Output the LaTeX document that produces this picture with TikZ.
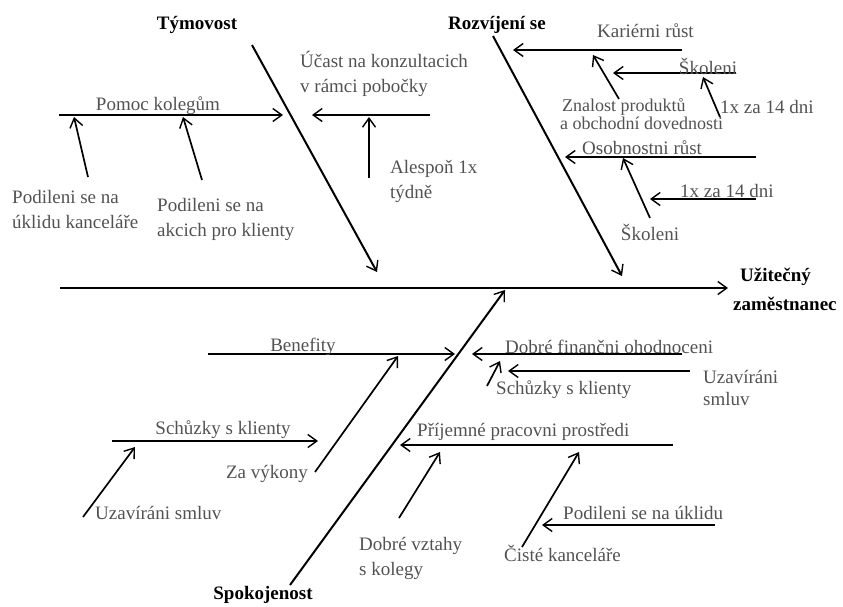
\documentclass[tikz,border=0pt]{standalone}
\usepackage{fontspec}
\setmainfont{Liberation Serif}
\usetikzlibrary{arrows.meta}
\begin{document}
\begin{tikzpicture}[x=1pt,y=-1pt,
  tip/.style={-{Straight Barb[length=9pt,width=13pt,line width=1.4pt]}},
  spine/.style={tip,line width=2.4pt},
  bone/.style={tip,line width=2pt},
  twig/.style={tip,line width=1.7pt},
  lbl/.style={text=black!68,inner sep=0pt,font=\fontsize{19}{25}\selectfont,align=left},
  ttl/.style={text=black,inner sep=0pt,font=\fontsize{19}{29}\selectfont\bfseries}]
\useasboundingbox (0,0) rectangle (843,606);

% main spine
\coordinate (sp0) at (60,288);
\coordinate (sp1) at (728,288);
\draw[spine] (sp0) -- (sp1);

% category bones
\coordinate (tym0) at (252,45);   \coordinate (tym1) at (377,272);
\coordinate (roz0) at (493,36);   \coordinate (roz1) at (622,276);
\coordinate (spk0) at (290,585);  \coordinate (spk1) at (505,290);
\draw[bone] (tym0) -- (tym1);
\draw[bone] (roz0) -- (roz1);
\draw[bone] (spk0) -- (spk1);

% Tymovost branches
\coordinate (pom0) at (59,115);   \coordinate (pom1) at (283,115);
\coordinate (pa0) at (88,177);    \coordinate (pa1) at (74,117);
\coordinate (pb0) at (202,180);   \coordinate (pb1) at (183,117);
\coordinate (uc0) at (430,115);   \coordinate (uc1) at (312,115);
\coordinate (al0) at (369,178);   \coordinate (al1) at (369,117);
\draw[bone] (pom0) -- (pom1);
\draw[twig] (pa0) -- (pa1);
\draw[twig] (pb0) -- (pb1);
\draw[bone] (uc0) -- (uc1);
\draw[twig] (al0) -- (al1);

% Rozvijeni se branches
\coordinate (kar0) at (682,50);   \coordinate (kar1) at (513,50);
\coordinate (zn0) at (619,99);    \coordinate (zn1) at (593,55);
\coordinate (sk0) at (736,73);    \coordinate (sk1) at (613,73);
\coordinate (xa0) at (720,117);   \coordinate (xa1) at (703,77);
\coordinate (os0) at (756,157);   \coordinate (os1) at (565,157);
\coordinate (sl0) at (650,218);   \coordinate (sl1) at (623,158);
\coordinate (xb0) at (756,199);   \coordinate (xb1) at (650,199);
\draw[bone] (kar0) -- (kar1);
\draw[twig] (zn0) -- (zn1);
\draw[twig] (sk0) -- (sk1);
\draw[twig] (xa0) -- (xa1);
\draw[bone] (os0) -- (os1);
\draw[twig] (sl0) -- (sl1);
\draw[twig] (xb0) -- (xb1);

% Spokojenost branches
\coordinate (ben0) at (208,354);  \coordinate (ben1) at (455,354);
\coordinate (zv0) at (315,472);   \coordinate (zv1) at (398,356);
\coordinate (shl0) at (112,441);  \coordinate (shl1) at (318,441);
\coordinate (uzl0) at (83,517);   \coordinate (uzl1) at (135,447);
\coordinate (dfo0) at (682,354);  \coordinate (dfo1) at (472,354);
\coordinate (shr0) at (487,386);  \coordinate (shr1) at (500,361);
\coordinate (uzr0) at (690,371);  \coordinate (uzr1) at (508,371);
\coordinate (pri0) at (673,445);  \coordinate (pri1) at (400,445);
\coordinate (dv0) at (399,518);   \coordinate (dv1) at (440,452);
\coordinate (ck0) at (522,547);   \coordinate (ck1) at (579,452);
\coordinate (pu0) at (715,525);   \coordinate (pu1) at (542,525);
\draw[bone] (ben0) -- (ben1);
\draw[twig] (zv0) -- (zv1);
\draw[bone] (shl0) -- (shl1);
\draw[twig] (uzl0) -- (uzl1);
\draw[bone] (dfo0) -- (dfo1);
\draw[twig] (shr0) -- (shr1);
\draw[twig] (uzr0) -- (uzr1);
\draw[bone] (pri0) -- (pri1);
\draw[twig] (dv0) -- (dv1);
\draw[twig] (ck0) -- (ck1);
\draw[twig] (pu0) -- (pu1);

% category titles (multi-line nodes are anchored at the last baseline)
\node[ttl] (tTym) at (197,25) {Týmovost};
\node[ttl] (tRoz) at (497,25) {Rozvíjení se};
\node[ttl] (tSpk) at (263,595) {Spokojenost};
\node[ttl,align=left,anchor=base west] (tUz) at (740,310) {Užitečný\\\hspace*{-7pt}zaměstnanec};

% Tymovost labels
\node[lbl] (lPom) at (158,106) {Pomoc kolegům};
\node[lbl,anchor=base west] (lPa) at (12,228) {Podileni se na\\úklidu kanceláře};
\node[lbl,anchor=base west] (lPb) at (157,236) {Podileni se na\\akcich pro klienty};
\node[lbl,anchor=base west] (lUc) at (300,92) {Účast na konzultacich\\v rámci pobočky};
\node[lbl,anchor=base west] (lAl) at (390,198) {Alespoň 1x\\týdně};

% Rozvijeni se labels
\node[lbl,anchor=base west] (lKar) at (597,37) {Kariérni růst};
\node[lbl] (lSk) at (708,66) {Školeni};
\node[lbl,anchor=base west,font=\fontsize{18}{16}\selectfont] (lZn) at (562,129) {Znalost produktů\\\hspace*{-2pt}a obchodní dovednosti};
\node[lbl,anchor=base west] (lXa) at (720,113) {1x za 14 dni};
\node[lbl,anchor=base west] (lOs) at (582,154) {Osobnostni růst};
\node[lbl,anchor=base west] (lXb) at (680,197) {1x za 14 dni};
\node[lbl] (lSl) at (650,232) {Školeni};

% Spokojenost labels
\node[lbl] (lBen) at (303,347) {Benefity};
\node[lbl,anchor=base west] (lDfo) at (505,353) {Dobré finančni ohodnoceni};
\node[lbl,anchor=base west] (lShr) at (496,394) {Schůzky s klienty};
\node[lbl,anchor=base west,font=\fontsize{19}{22}\selectfont] (lUzr) at (703,405) {Uzavíráni\\smluv};
\node[lbl] (lShl) at (223,430) {Schůzky s klienty};
\node[lbl,anchor=base east] (lZv) at (308,478) {Za výkony};
\node[lbl,anchor=base west] (lUzl) at (95,519) {Uzavíráni smluv};
\node[lbl,anchor=base west] (lPri) at (417,436) {Příjemné pracovni prostředi};
\node[lbl,anchor=base west] (lDv) at (359,575) {Dobré vztahy\\s kolegy};
\node[lbl,anchor=base west] (lPu) at (563,519) {Podileni se na úklidu};
\node[lbl,anchor=base west] (lCk) at (504,561) {Čisté kanceláře};
\end{tikzpicture}
\end{document}
